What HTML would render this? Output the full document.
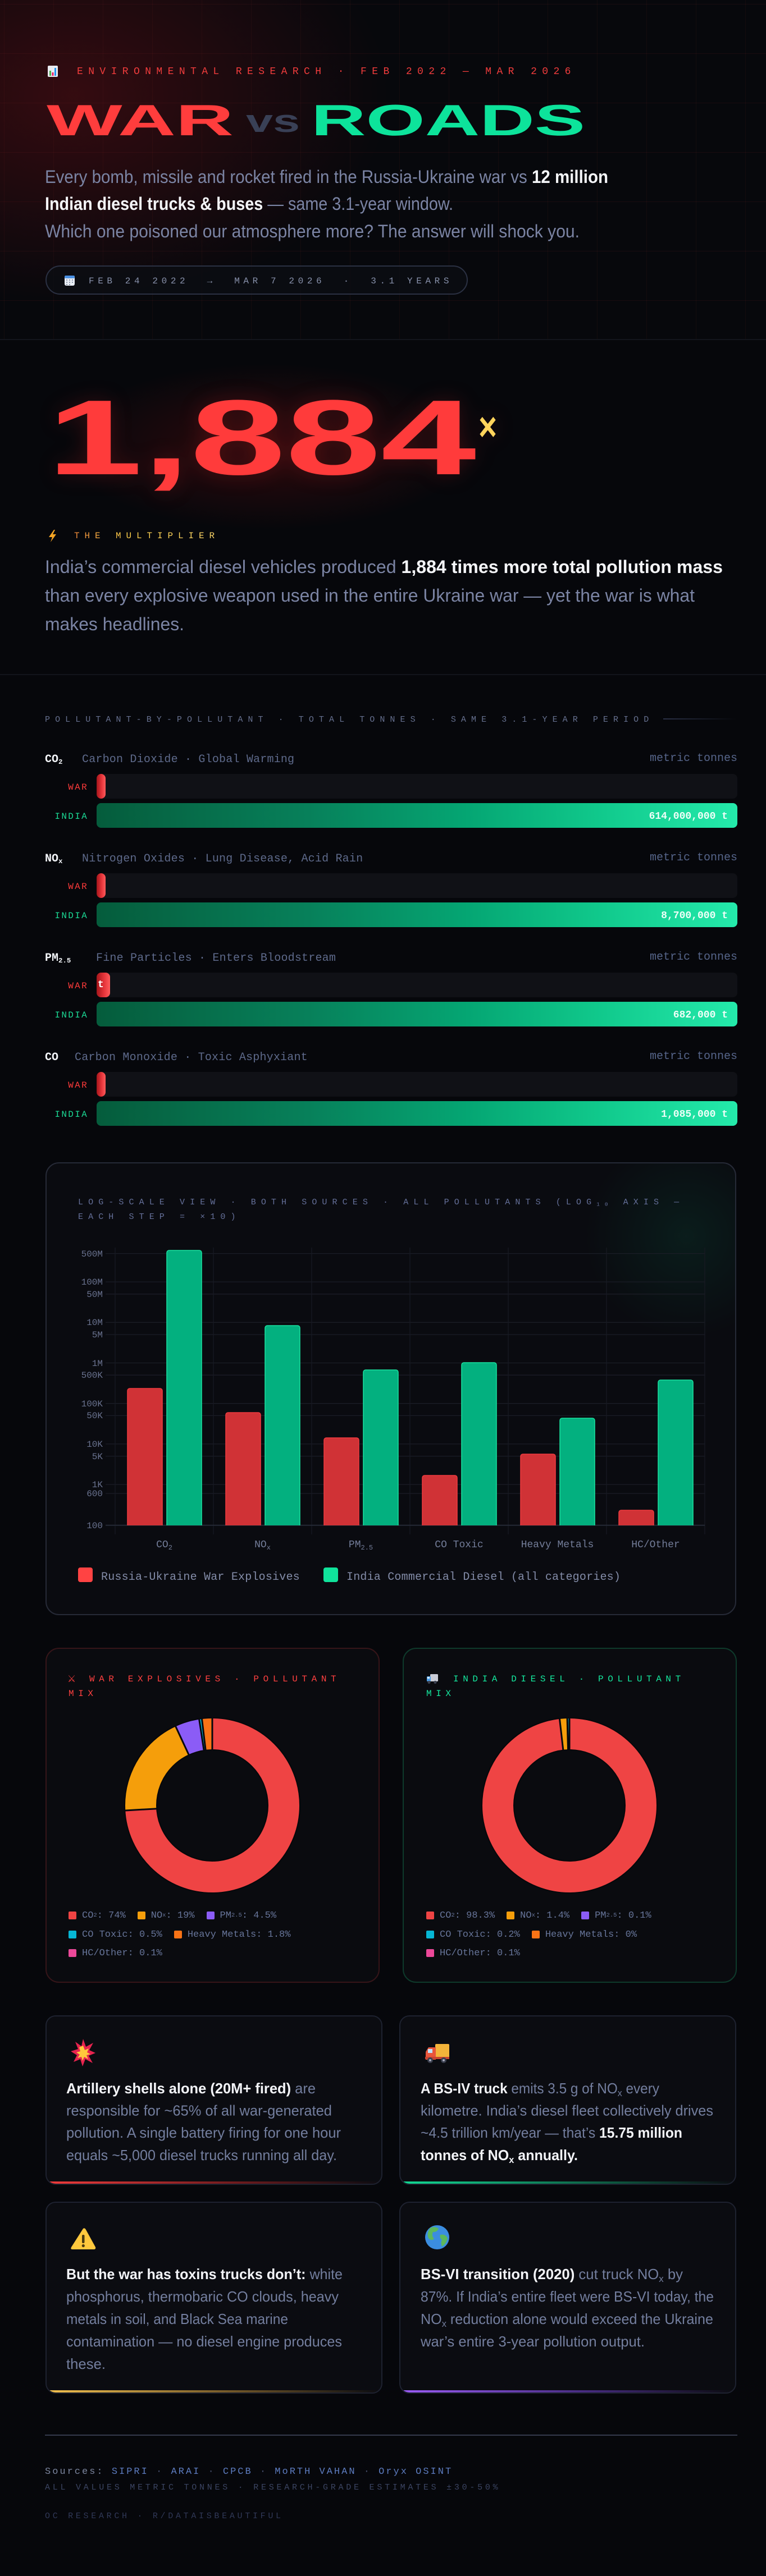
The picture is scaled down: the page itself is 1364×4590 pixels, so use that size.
<!DOCTYPE html>
<html><head><meta charset="utf-8">
<style>
*{margin:0;padding:0;box-sizing:border-box}
html,body{width:1364px;height:4590px;background:#06070b;overflow:hidden}
body{position:relative;font-family:"Liberation Sans",sans-serif}
.a{position:absolute;white-space:pre}
.m{font-family:"Liberation Mono","DejaVu Sans Mono",monospace}
.sb{font-size:0.62em;vertical-align:-0.25em;line-height:0}
.card{position:absolute;border-radius:18px;border:2px solid #1e2230;background:#0b0c11;overflow:hidden}
.acc{position:absolute;left:0;right:0;bottom:0;height:4px}
.track{position:absolute;left:172px;width:1141px;height:44px;border-radius:8px;background:#101116}
.warf{position:absolute;left:172px;height:44px;border-radius:8px;background:linear-gradient(90deg,#a3151a,#e5343a 55%,#ff5b5b)}
.indf{position:absolute;left:172px;width:1141px;height:44px;border-radius:8px;background:linear-gradient(90deg,#055c3c 0%,#07805a 33%,#05a673 58%,#10c88b 78%,#24eaab 100%)}
.nm{font-size:20px;line-height:22px;font-weight:700;color:#f2f4f8}
.ds{font-size:20px;line-height:22px;color:#5e6a8b;letter-spacing:0.2px}
.mt{font-size:20px;line-height:22px;color:#56658a;right:51px}
.wl{font-size:16px;line-height:20px;letter-spacing:2.3px;color:#ff3b3b;right:1207px}
.il{font-size:16px;line-height:20px;letter-spacing:2.3px;color:#1bd894;right:1207px}
.vl{font-size:18px;line-height:22px;font-weight:700;color:#effff8;right:68px}
.lg{position:absolute;display:flex;align-items:center;gap:21px;height:20px;font-size:17px;color:#67759a}
.lg span.i{display:flex;align-items:center;white-space:pre}
.lg span.q{display:inline-block;width:14px;height:14px;border-radius:2px;margin-right:10px}
</style></head><body>

<!-- HEADER -->
<div class="a" style="left:0;top:0;width:1364px;height:604px;background:
radial-gradient(ellipse 780px 520px at 130px 170px, rgba(140,18,24,0.34), rgba(140,18,24,0) 72%),
linear-gradient(rgba(255,70,70,0.075) 1px, transparent 1px) 0 7px/88px 88px,
linear-gradient(90deg, rgba(255,70,70,0.05) 1px, transparent 1px) 7px 0/88px 88px,
#07080c;"></div>
<div class="a" style="left:0;top:604px;width:1364px;height:2px;background:#13151c"></div>

<svg class="a" style="left:84px;top:117px" width="20" height="20" viewBox="0 0 20 20">
<rect x="1" y="0" width="18" height="20" rx="2" fill="#e9ebf1"/>
<rect x="4" y="9" width="3" height="9" fill="#4caf50"/>
<rect x="8.5" y="12" width="3" height="6" fill="#e91e63"/>
<rect x="13" y="4" width="3" height="14" fill="#2196f3"/>
</svg>
<div class="a m" style="left:137px;top:118px;font-size:18px;line-height:20px;letter-spacing:9.4px;color:#f03c3c">ENVIRONMENTAL RESEARCH · FEB 2022 — MAR 2026</div>

<svg class="a" style="left:0;top:0" width="1364" height="600">
<text x="83" y="241" font-family="Liberation Sans" font-weight="700" font-size="78" fill="#ff3d3d" textLength="333" lengthAdjust="spacingAndGlyphs">WAR</text>
<text x="438" y="235" font-family="Liberation Sans" font-weight="700" font-size="57" fill="#394056" textLength="96" lengthAdjust="spacingAndGlyphs">vs</text>
<text x="554" y="241" font-family="Liberation Sans" font-weight="700" font-size="78" fill="#0de39b" textLength="488" lengthAdjust="spacingAndGlyphs">ROADS</text>
<g font-family="Liberation Sans" font-size="32" fill="#7b84a4">
<text x="80" y="326" textLength="1003" lengthAdjust="spacingAndGlyphs">Every bomb, missile and rocket fired in the Russia-Ukraine war vs <tspan font-weight="700" fill="#f4f5f8">12 million</tspan></text>
<text x="80" y="374" textLength="727" lengthAdjust="spacingAndGlyphs"><tspan font-weight="700" fill="#f4f5f8">Indian diesel trucks &amp; buses</tspan> — same 3.1-year window.</text>
<text x="80" y="423" textLength="952" lengthAdjust="spacingAndGlyphs">Which one poisoned our atmosphere more? The answer will shock you.</text>
</g>
</svg>

<div class="a" style="left:81px;top:473px;width:752px;height:52px;border:2px solid #2b3143;border-radius:26px;background:rgba(12,14,20,0.7)"></div>
<svg class="a" style="left:114px;top:490px" width="20" height="20" viewBox="0 0 20 20">
<rect x="1" y="1" width="18" height="18" rx="3" fill="#e8ecf3"/>
<rect x="1" y="1" width="18" height="5" rx="2" fill="#4a90e2"/>
<g fill="#8a94a8"><rect x="4" y="8" width="2" height="2"/><rect x="9" y="8" width="2" height="2"/><rect x="14" y="8" width="2" height="2"/><rect x="4" y="12" width="2" height="2"/><rect x="9" y="12" width="2" height="2"/><rect x="14" y="12" width="2" height="2"/><rect x="4" y="16" width="2" height="2"/><rect x="9" y="16" width="2" height="2"/></g>
</svg>
<div class="a m" style="left:158px;top:492px;font-size:16px;line-height:18px;letter-spacing:6.6px;color:#8891ab">FEB 24 2022  →  MAR 7 2026  ·  3.1 YEARS</div>

<!-- MULTIPLIER -->
<div class="a" style="left:0;top:606px;width:1364px;height:595px;background:radial-gradient(ellipse 470px 190px at 478px 190px, rgba(110,14,16,0.40), rgba(110,14,16,0) 78%)"></div>
<svg class="a" style="left:0;top:600px;filter:drop-shadow(0 0 18px rgba(255,40,40,0.18))" width="1000" height="320">
<text x="84" y="245" font-family="Liberation Sans" font-weight="700" font-size="190" fill="#ff3b3b" textLength="764" lengthAdjust="spacingAndGlyphs">1,884</text>
<text x="852" y="185" font-family="Liberation Sans" font-weight="700" font-size="72" fill="#ffd45c" textLength="33" lengthAdjust="spacingAndGlyphs">×</text>
</svg>
<svg class="a" style="left:86px;top:943px" width="16" height="24" viewBox="86 943 16 24">
<polygon points="96,944 87,957 93,957 90,966 100,952 94,952 98,944" fill="#f5a524"/>
</svg>
<div class="a m" style="left:132px;top:946px;font-size:16px;line-height:18px;letter-spacing:8.9px;background:linear-gradient(90deg,#f08a3a,#ffd04a 35%,#ffd86a);-webkit-background-clip:text;background-clip:text;-webkit-text-fill-color:transparent;color:#f5b443">THE MULTIPLIER</div>
<svg class="a" style="left:0;top:960px" width="1364" height="200">
<g font-family="Liberation Sans" font-size="32" fill="#7b84a4">
<text x="80" y="61" textLength="1207" lengthAdjust="spacingAndGlyphs">India’s commercial diesel vehicles produced <tspan font-weight="700" fill="#f4f5f8">1,884 times more total pollution mass</tspan></text>
<text x="80" y="112" textLength="1157" lengthAdjust="spacingAndGlyphs">than every explosive weapon used in the entire Ukraine war — yet the war is what</text>
<text x="80" y="163" textLength="248" lengthAdjust="spacingAndGlyphs">makes headlines.</text>
</g>
</svg>
<div class="a" style="left:0;top:1201px;width:1364px;height:2px;background:#12141b"></div>

<!-- BARS -->
<div class="a m" style="left:80px;top:1274px;font-size:15px;line-height:18px;letter-spacing:9.07px;color:#66708f">POLLUTANT-BY-POLLUTANT · TOTAL TONNES · SAME 3.1-YEAR PERIOD</div>
<div class="a" style="left:1181px;top:1280px;width:130px;height:2px;background:linear-gradient(90deg,#2b3147,rgba(43,49,71,0))"></div>

<!-- G1 CO2 1352 -->
<div class="a m nm" style="left:80px;top:1343px">CO<span class="sb">2</span></div>
<div class="a m ds" style="left:146px;top:1343px">Carbon Dioxide · Global Warming</div>
<div class="a m mt" style="top:1341px">metric tonnes</div>
<div class="track" style="top:1379px"></div>
<div class="warf" style="top:1379px;width:16px"></div>
<div class="a m wl" style="top:1393px">WAR</div>
<div class="indf" style="top:1431px"></div>
<div class="a m il" style="top:1445px">INDIA</div>
<div class="a m vl" style="top:1444px">614,000,000 t</div>

<!-- G2 NOx 1529 -->
<div class="a m nm" style="left:80px;top:1520px">NO<span class="sb">x</span></div>
<div class="a m ds" style="left:146px;top:1520px">Nitrogen Oxides · Lung Disease, Acid Rain</div>
<div class="a m mt" style="top:1518px">metric tonnes</div>
<div class="track" style="top:1556px"></div>
<div class="warf" style="top:1556px;width:16px"></div>
<div class="a m wl" style="top:1570px">WAR</div>
<div class="indf" style="top:1608px"></div>
<div class="a m il" style="top:1622px">INDIA</div>
<div class="a m vl" style="top:1621px">8,700,000 t</div>

<!-- G3 PM 1706 -->
<div class="a m nm" style="left:80px;top:1697px">PM<span class="sb">2.5</span></div>
<div class="a m ds" style="left:171px;top:1697px">Fine Particles · Enters Bloodstream</div>
<div class="a m mt" style="top:1695px">metric tonnes</div>
<div class="track" style="top:1733px"></div>
<div class="warf" style="top:1733px;width:24px"></div>
<div class="a m" style="left:174px;top:1736px;font-size:18px;line-height:38px;font-weight:700;color:#ffffff">t</div>
<div class="a m wl" style="top:1747px">WAR</div>
<div class="indf" style="top:1785px"></div>
<div class="a m il" style="top:1799px">INDIA</div>
<div class="a m vl" style="top:1798px">682,000 t</div>

<!-- G4 CO 1883 -->
<div class="a m nm" style="left:80px;top:1874px">CO</div>
<div class="a m ds" style="left:133px;top:1874px">Carbon Monoxide · Toxic Asphyxiant</div>
<div class="a m mt" style="top:1872px">metric tonnes</div>
<div class="track" style="top:1910px"></div>
<div class="warf" style="top:1910px;width:16px"></div>
<div class="a m wl" style="top:1924px">WAR</div>
<div class="indf" style="top:1962px"></div>
<div class="a m il" style="top:1976px">INDIA</div>
<div class="a m vl" style="top:1975px">1,085,000 t</div>

<!-- LOG CHART -->
<div class="a" style="left:81px;top:2071px;width:1230px;height:807px;border:2px solid #262a37;border-radius:24px;background:radial-gradient(circle 240px at 1139px 130px, rgba(16,185,129,0.10), rgba(16,185,129,0) 75%),#0a0b10"></div>
<div class="a m" style="left:139px;top:2130px;font-size:15px;line-height:26px;letter-spacing:9.1px;color:#65709a">LOG-SCALE VIEW · BOTH SOURCES · ALL POLLUTANTS (LOG<span class="sb">10</span> AXIS —
EACH STEP = ×10)</div>

<svg class="a" style="left:0;top:2040px" width="1364" height="860">
<defs><clipPath id="pc"><rect x="180" y="150" width="1100" height="528"/></clipPath></defs>
<g stroke="#1a1d26" stroke-width="1.3">
<line x1="188" x2="1255" y1="193.6" y2="193.6"/>
<line x1="188" x2="1255" y1="244.1" y2="244.1"/>
<line x1="188" x2="1255" y1="265.8" y2="265.8"/>
<line x1="188" x2="1255" y1="316.3" y2="316.3"/>
<line x1="188" x2="1255" y1="338" y2="338"/>
<line x1="188" x2="1255" y1="388.5" y2="388.5"/>
<line x1="188" x2="1255" y1="410.2" y2="410.2"/>
<line x1="188" x2="1255" y1="460.7" y2="460.7"/>
<line x1="188" x2="1255" y1="482.4" y2="482.4"/>
<line x1="188" x2="1255" y1="532.9" y2="532.9"/>
<line x1="188" x2="1255" y1="554.6" y2="554.6"/>
<line x1="188" x2="1255" y1="605.1" y2="605.1"/>
<line x1="188" x2="1255" y1="621.1" y2="621.1"/>
</g>
<g stroke="#171a22" stroke-width="1.3">
<line x1="205" x2="205" y1="183" y2="694"/>
<line x1="380" x2="380" y1="183" y2="694"/>
<line x1="555" x2="555" y1="183" y2="694"/>
<line x1="730" x2="730" y1="183" y2="694"/>
<line x1="905" x2="905" y1="183" y2="694"/>
<line x1="1080" x2="1080" y1="183" y2="694"/>
<line x1="1255" x2="1255" y1="183" y2="694"/>
</g>
<line x1="188" x2="1255" y1="677.8" y2="677.8" stroke="#252935" stroke-width="2"/>
<g font-family="Liberation Mono" font-size="16" fill="#6a7390" text-anchor="end">
<text x="183" y="199">500M</text>
<text x="183" y="249">100M</text>
<text x="183" y="271">50M</text>
<text x="183" y="321">10M</text>
<text x="183" y="343">5M</text>
<text x="183" y="394">1M</text>
<text x="183" y="415">500K</text>
<text x="183" y="466">100K</text>
<text x="183" y="487">50K</text>
<text x="183" y="538">10K</text>
<text x="183" y="560">5K</text>
<text x="183" y="610">1K</text>
<text x="183" y="626">600</text>
<text x="183" y="683">100</text>
</g>
<g clip-path="url(#pc)" stroke-width="1.5">
<g fill="#d03236" stroke="#ef3b3f">
<rect x="227" y="434" width="62" height="260" rx="4"/>
<rect x="402" y="477" width="62" height="220" rx="4"/>
<rect x="577" y="522" width="62" height="180" rx="4"/>
<rect x="752" y="589" width="62" height="110" rx="4"/>
<rect x="927" y="551" width="62" height="140" rx="4"/>
<rect x="1102" y="651" width="62" height="40" rx="4"/>
</g>
<g fill="#03b07f" stroke="#19e3a0">
<rect x="297" y="188" width="62" height="500" rx="4"/>
<rect x="472" y="322" width="62" height="370" rx="4"/>
<rect x="647" y="401" width="62" height="290" rx="4"/>
<rect x="822" y="388" width="62" height="300" rx="4"/>
<rect x="997" y="487" width="62" height="200" rx="4"/>
<rect x="1172" y="419" width="62" height="270" rx="4"/>
</g>
</g>
<g font-family="Liberation Mono" font-size="18" fill="#737d99" text-anchor="middle">
<text x="292.5" y="717">CO<tspan font-size="12" dy="4">2</tspan></text>
<text x="467.5" y="717">NO<tspan font-size="12" dy="4">x</tspan></text>
<text x="642.5" y="717">PM<tspan font-size="12" dy="4">2.5</tspan></text>
<text x="817.5" y="717">CO Toxic</text>
<text x="992.5" y="717">Heavy Metals</text>
<text x="1167.5" y="717">HC/Other</text>
</g>
<rect x="139" y="753" width="26" height="26" rx="4" fill="#ff4343"/>
<rect x="576" y="753" width="26" height="26" rx="4" fill="#10e39b"/>
<g font-family="Liberation Mono" font-size="20" fill="#838ca8" letter-spacing="0.2">
<text x="180" y="775">Russia-Ukraine War Explosives</text>
<text x="617" y="775">India Commercial Diesel (all categories)</text>
</g>
</svg>

<!-- DONUT CARDS -->
<div class="a" style="left:81px;top:2936px;width:595px;height:597px;border:2px solid #361519;border-radius:24px;background:#0a0b0f"></div>
<div class="a" style="left:717px;top:2936px;width:595px;height:597px;border:2px solid #0e3a2b;border-radius:24px;background:#0a0b0f"></div>
<div class="a" style="left:120px;top:2979px;font-family:'DejaVu Sans',sans-serif;font-size:17px;line-height:26px;color:#ef3a3a">⚔</div>
<div class="a m" style="left:159px;top:2979px;font-size:16px;line-height:26px;letter-spacing:7.6px;color:#ff4040">WAR EXPLOSIVES · POLLUTANT</div>
<div class="a m" style="left:122px;top:3005px;font-size:16px;line-height:26px;letter-spacing:7.6px;color:#ff4040">MIX</div>
<svg class="a" style="left:759px;top:2981px" width="22" height="20" viewBox="0 0 22 20">
<rect x="7" y="2" width="14" height="13" rx="1.5" fill="#c9ccd6"/>
<rect x="1" y="6" width="7" height="9" rx="1.5" fill="#4fa0e8"/>
<rect x="2" y="7" width="4" height="3" fill="#d8ecff"/>
<circle cx="5" cy="16.5" r="2.6" fill="#3a3f4e"/><circle cx="16" cy="16.5" r="2.6" fill="#3a3f4e"/>
</svg>
<div class="a m" style="left:807px;top:2979px;font-size:16px;line-height:26px;letter-spacing:7.6px;color:#14e89e">INDIA DIESEL · POLLUTANT</div>
<div class="a m" style="left:759px;top:3005px;font-size:16px;line-height:26px;letter-spacing:7.6px;color:#14e89e">MIX</div>

<svg class="a" style="left:0;top:2900px" width="1364" height="680">
<g fill="none" stroke-width="57">
<g transform="rotate(-90 378 317)">
<circle cx="378" cy="317" r="127.5" stroke="#ef4444" stroke-dasharray="593.4 1000" stroke-dashoffset="0"/>
<circle cx="378" cy="317" r="127.5" stroke="#f59e0b" stroke-dasharray="152.4 1000" stroke-dashoffset="-593.4"/>
<circle cx="378" cy="317" r="127.5" stroke="#8b5cf6" stroke-dasharray="36.1 1000" stroke-dashoffset="-745.8"/>
<circle cx="378" cy="317" r="127.5" stroke="#06b6d4" stroke-dasharray="4 1000" stroke-dashoffset="-781.9"/>
<circle cx="378" cy="317" r="127.5" stroke="#f97316" stroke-dasharray="14.4 1000" stroke-dashoffset="-785.9"/>
<circle cx="378" cy="317" r="127.5" stroke="#ec4899" stroke-dasharray="0.8 1000" stroke-dashoffset="-800.3"/>
</g>
<g transform="rotate(-90 1014 317)">
<circle cx="1014" cy="317" r="127.5" stroke="#ef4444" stroke-dasharray="786.7 1000" stroke-dashoffset="0"/>
<circle cx="1014" cy="317" r="127.5" stroke="#f59e0b" stroke-dasharray="11.2 1000" stroke-dashoffset="-786.7"/>
<circle cx="1014" cy="317" r="127.5" stroke="#8b5cf6" stroke-dasharray="0.8 1000" stroke-dashoffset="-797.9"/>
<circle cx="1014" cy="317" r="127.5" stroke="#06b6d4" stroke-dasharray="1.6 1000" stroke-dashoffset="-798.7"/>
<circle cx="1014" cy="317" r="127.5" stroke="#ec4899" stroke-dasharray="0.8 1000" stroke-dashoffset="-800.3"/>
</g>
</g>
<g fill="none" stroke="#06070a" stroke-width="2">
<circle cx="378" cy="317" r="156"/><circle cx="378" cy="317" r="99"/>
<circle cx="1014" cy="317" r="156"/><circle cx="1014" cy="317" r="99"/>
</g>
<g stroke="#08090d" stroke-width="3">
<line x1="378" y1="219" x2="378" y2="160"/>
<line x1="280.2" y1="322.7" x2="221.3" y2="326.1"/>
<line x1="336.8" y1="228" x2="312" y2="174.6"/>
<line x1="363.3" y1="220" x2="354.4" y2="161.8"/>
<line x1="366.3" y1="219.7" x2="359.3" y2="161.1"/>
<line x1="1014" y1="219" x2="1014" y2="160"/>
<line x1="1003" y1="219.6" x2="996.3" y2="161"/>
<line x1="1011.6" y1="219" x2="1010" y2="160"/>
</g>
</svg>

<div class="lg m" style="left:122px;top:3403px"><span class="i"><span class="q" style="background:#ef4444"></span>CO<span class="sb">2</span>: 74%</span><span class="i"><span class="q" style="background:#f59e0b"></span>NO<span class="sb">x</span>: 19%</span><span class="i"><span class="q" style="background:#8b5cf6"></span>PM<span class="sb">2.5</span>: 4.5%</span></div>
<div class="lg m" style="left:122px;top:3437px"><span class="i"><span class="q" style="background:#06b6d4"></span>CO Toxic: 0.5%</span><span class="i"><span class="q" style="background:#f97316"></span>Heavy Metals: 1.8%</span></div>
<div class="lg m" style="left:122px;top:3470px"><span class="i"><span class="q" style="background:#ec4899"></span>HC/Other: 0.1%</span></div>

<div class="lg m" style="left:759px;top:3403px"><span class="i"><span class="q" style="background:#ef4444"></span>CO<span class="sb">2</span>: 98.3%</span><span class="i"><span class="q" style="background:#f59e0b"></span>NO<span class="sb">x</span>: 1.4%</span><span class="i"><span class="q" style="background:#8b5cf6"></span>PM<span class="sb">2.5</span>: 0.1%</span></div>
<div class="lg m" style="left:759px;top:3437px"><span class="i"><span class="q" style="background:#06b6d4"></span>CO Toxic: 0.2%</span><span class="i"><span class="q" style="background:#f97316"></span>Heavy Metals: 0%</span></div>
<div class="lg m" style="left:759px;top:3470px"><span class="i"><span class="q" style="background:#ec4899"></span>HC/Other: 0.1%</span></div>

<!-- INSIGHT CARDS -->
<div class="card" style="left:81px;top:3591px;width:600px;height:302px"><div class="acc" style="background:linear-gradient(90deg,#ef3b3b,rgba(200,40,40,0.55) 55%,rgba(200,40,40,0))"></div></div>
<div class="card" style="left:711px;top:3591px;width:600px;height:302px"><div class="acc" style="background:linear-gradient(90deg,#12d993,rgba(16,180,120,0.55) 55%,rgba(16,180,120,0))"></div></div>
<div class="card" style="left:81px;top:3923px;width:600px;height:342px"><div class="acc" style="background:linear-gradient(90deg,#f2c04e,rgba(200,150,60,0.55) 55%,rgba(200,150,60,0))"></div></div>
<div class="card" style="left:711px;top:3923px;width:600px;height:342px"><div class="acc" style="background:linear-gradient(90deg,#9b5cf6,rgba(120,70,220,0.55) 55%,rgba(120,70,220,0))"></div></div>

<svg class="a" style="left:0;top:3570px" width="1364" height="720">
<polygon points="148,63 153,77 166,70 159,83 170,88 158,93 165,106 152,99 147,112 143,99 131,104 137,92 126,85 139,81 134,68 145,76" fill="#e8234f"/>
<polygon points="148,75 151,83 158,80 155,87 161,90 154,92 157,99 150,95 147,102 145,95 138,97 142,91 136,87 143,85 141,78" fill="#ffc93c"/>
<rect x="775" y="72" width="25" height="27" rx="2" fill="#f4b43a"/>
<path d="M758,86 L763,78 L776,78 L776,100 L758,100 Z" fill="#e8553b"/>
<rect x="762" y="81" width="8" height="7" fill="#bfe3ff"/>
<rect x="757" y="95" width="43" height="4" fill="#c84430"/>
<circle cx="766" cy="101" r="5" fill="#3a3f4e"/><circle cx="790" cy="101" r="5" fill="#3a3f4e"/>
<circle cx="766" cy="101" r="2" fill="#aab"/><circle cx="790" cy="101" r="2" fill="#aab"/>
<path d="M148,401 Q151,399 153,403 L170,434 Q171,438 167,438 L129,438 Q125,438 127,434 Z" fill="#ffc83d"/>
<rect x="146" y="412" width="4.5" height="15" rx="2" fill="#4a3a10"/>
<circle cx="148.3" cy="431.5" r="2.6" fill="#4a3a10"/>
<circle cx="778.5" cy="416.5" r="21.5" fill="#3b8de0"/>
<path d="M766,400 Q774,396 781,401 Q778,408 771,407 Q768,414 773,419 Q768,424 763,418 Q759,410 766,400 Z" fill="#5cb85c"/>
<path d="M784,412 Q793,410 797,418 Q795,428 787,433 Q784,426 787,421 Q782,417 784,412 Z" fill="#5cb85c"/>

<g font-family="Liberation Sans" font-size="26" fill="#737e9e">
<text x="118" y="160" textLength="444" lengthAdjust="spacingAndGlyphs"><tspan font-weight="700" fill="#f3f4f8">Artillery shells alone (20M+ fired)</tspan> are</text>
<text x="118" y="199.6" textLength="473" lengthAdjust="spacingAndGlyphs">responsible for ~65% of all war-generated</text>
<text x="118" y="239" textLength="489" lengthAdjust="spacingAndGlyphs">pollution. A single battery firing for one hour</text>
<text x="118" y="279" textLength="482" lengthAdjust="spacingAndGlyphs">equals ~5,000 diesel trucks running all day.</text>

<text x="749" y="160" textLength="425" lengthAdjust="spacingAndGlyphs"><tspan font-weight="700" fill="#f3f4f8">A BS-IV truck</tspan> emits 3.5 g of NO<tspan font-size="17" dy="5">x</tspan><tspan dy="-5"> every</tspan></text>
<text x="749" y="199.6" textLength="521" lengthAdjust="spacingAndGlyphs">kilometre. India’s diesel fleet collectively drives</text>
<text x="749" y="239" textLength="466" lengthAdjust="spacingAndGlyphs">~4.5 trillion km/year — that’s <tspan font-weight="700" fill="#f3f4f8">15.75 million</tspan></text>
<text x="749" y="279" textLength="280" lengthAdjust="spacingAndGlyphs" font-weight="700" fill="#f3f4f8">tonnes of NO<tspan font-size="17" dy="5">x</tspan><tspan dy="-5"> annually.</tspan></text>

<text x="118" y="491" textLength="492" lengthAdjust="spacingAndGlyphs"><tspan font-weight="700" fill="#f3f4f8">But the war has toxins trucks don’t:</tspan> white</text>
<text x="118" y="531" textLength="485" lengthAdjust="spacingAndGlyphs">phosphorus, thermobaric CO clouds, heavy</text>
<text x="118" y="571" textLength="395" lengthAdjust="spacingAndGlyphs">metals in soil, and Black Sea marine</text>
<text x="118" y="611" textLength="491" lengthAdjust="spacingAndGlyphs">contamination — no diesel engine produces</text>
<text x="118" y="651" textLength="70" lengthAdjust="spacingAndGlyphs">these.</text>

<text x="749" y="491" textLength="467" lengthAdjust="spacingAndGlyphs"><tspan font-weight="700" fill="#f3f4f8">BS-VI transition (2020)</tspan> cut truck NO<tspan font-size="17" dy="5">x</tspan><tspan dy="-5"> by</tspan></text>
<text x="749" y="531" textLength="522" lengthAdjust="spacingAndGlyphs">87%. If India’s entire fleet were BS-VI today, the</text>
<text x="749" y="571" textLength="521" lengthAdjust="spacingAndGlyphs">NO<tspan font-size="17" dy="5">x</tspan><tspan dy="-5"> reduction alone would exceed the Ukraine</tspan></text>
<text x="749" y="611" textLength="399" lengthAdjust="spacingAndGlyphs">war’s entire 3-year pollution output.</text>
</g>
</svg>

<!-- FOOTER -->
<div class="a" style="left:80px;top:4338px;width:1233px;height:2px;background:#343a4c"></div>
<div class="a m" style="left:80px;top:4395px;font-size:17px;line-height:20px;letter-spacing:3px;color:#4a5270"><span style="color:#7c869f">Sources:</span> <span style="color:#5d7cc0">SIPRI</span> · <span style="color:#5d7cc0">ARAI</span> · <span style="color:#5d7cc0">CPCB</span> · <span style="color:#5d7cc0">MoRTH VAHAN</span> · <span style="color:#5d7cc0">Oryx OSINT</span></div>
<div class="a m" style="left:80px;top:4424px;font-size:15px;line-height:18px;letter-spacing:4.75px;color:#3b4462">ALL VALUES METRIC TONNES · RESEARCH-GRADE ESTIMATES ±30-50%</div>
<div class="a m" style="left:80px;top:4475px;font-size:15px;line-height:18px;letter-spacing:4.7px;color:#303857">OC RESEARCH · R/DATAISBEAUTIFUL</div>

</body></html>
